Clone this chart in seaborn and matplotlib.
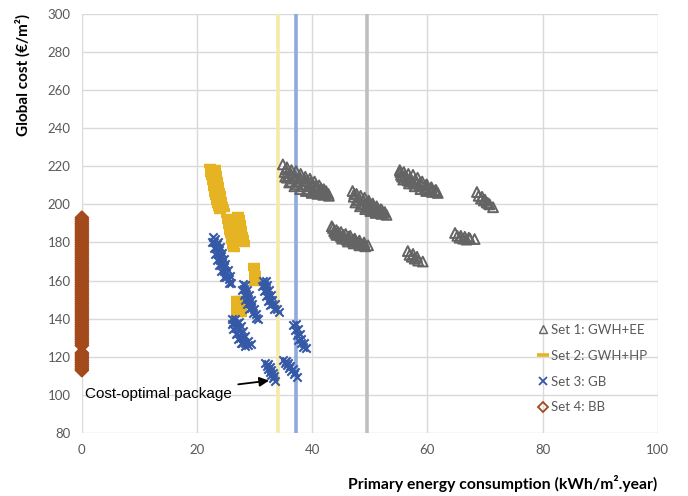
import matplotlib
matplotlib.use("Agg")
import matplotlib.pyplot as plt
from matplotlib.lines import Line2D
import seaborn as sns
import pandas as pd

# ---- Set 1: GWH+EE (primary energy, global cost) ----
set1_x = [34.9, 35.6, 36.4, 37.2, 38.0, 38.8, 39.6, 40.4, 41.2, 42.0, 42.8,
          35.4, 36.2, 37.0, 37.9, 38.8, 39.7, 40.6, 41.5, 42.4,
          35.2, 36.0, 36.9, 37.8, 38.7, 39.6, 40.5, 41.4, 42.2,
          35.6, 36.4, 37.3, 38.3, 39.3, 40.3, 41.3, 42.3,
          35.3, 36.0, 36.9, 37.9, 38.9, 39.9, 40.9, 41.9, 42.9,
          47.0, 47.7, 48.4, 49.1, 49.8, 50.5, 51.2, 51.9, 52.6,
          47.3, 48.1, 48.9, 49.7, 50.5, 51.3, 52.1,
          47.2, 47.9, 48.7, 49.5, 50.3, 51.1, 51.9,
          47.8, 48.6, 49.5, 50.4, 51.4, 52.4,
          47.5, 48.3, 49.2, 50.1, 51.0, 52.0, 52.9,
          43.4, 44.2, 45.0, 45.8, 46.6, 47.4, 48.2, 49.0, 49.7,
          43.6, 44.5, 45.4, 46.3, 47.2, 48.1, 49.0,
          43.8, 44.7, 45.6, 46.5, 47.4, 48.3,
          44.0, 45.0, 46.0, 47.0, 48.0, 49.0,
          44.2, 45.2, 46.2, 47.2, 48.2, 49.2,
          55.2, 55.9, 56.7, 57.5, 58.3, 59.1, 59.9, 60.7, 61.5,
          55.3, 56.1, 57.0, 57.9, 58.8, 59.7, 60.6, 61.4,
          55.4, 56.3, 57.2, 58.1, 59.0, 59.9, 60.8,
          55.6, 56.6, 57.6, 58.6, 59.6, 60.6, 61.4,
          55.8, 56.8, 57.8, 58.8, 59.8, 60.8, 61.8,
          68.6, 68.9, 69.3, 69.8, 70.3, 70.8, 71.4, 69.5, 70.0, 70.6,
          64.8, 65.2, 65.6, 66.2, 66.8, 67.4, 68.2, 65.8, 66.5, 67.2,
          56.6, 56.9, 57.3, 57.8, 58.4, 59.2, 57.5, 58.2]
set1_y = [221.0, 219.5, 218.0, 217.5, 216.0, 214.5, 213.5, 212.0, 210.0, 208.0, 205.5,
          218.5, 216.5, 215.0, 214.0, 212.5, 211.5, 210.0, 208.5, 207.0,
          217.0, 215.0, 213.5, 212.0, 210.5, 209.5, 208.5, 207.0, 206.0,
          214.0, 212.0, 210.5, 209.5, 208.0, 207.0, 206.2, 205.5,
          214.5, 211.5, 209.5, 208.0, 207.0, 206.0, 205.5, 205.0, 204.5,
          207.0, 205.5, 204.5, 203.5, 202.0, 200.5, 199.0, 197.5, 196.0,
          205.5, 203.5, 202.0, 201.0, 199.5, 198.0, 197.0,
          204.0, 202.0, 200.5, 199.5, 198.0, 197.0, 196.0,
          202.5, 200.0, 198.5, 197.2, 196.2, 195.5,
          201.0, 199.0, 197.5, 196.5, 195.5, 195.0, 194.5,
          188.5, 186.5, 185.5, 184.5, 183.5, 182.0, 181.0, 180.0, 178.5,
          187.5, 185.5, 184.0, 183.0, 181.5, 180.5, 179.3,
          186.0, 184.0, 182.5, 181.5, 180.5, 179.5,
          185.0, 183.0, 181.5, 180.5, 179.5, 178.8,
          184.0, 182.0, 180.5, 179.5, 178.5, 178.0,
          218.0, 217.0, 216.0, 215.5, 214.0, 212.0, 210.5, 209.0, 207.5,
          217.0, 215.0, 214.0, 213.0, 211.5, 210.0, 208.5, 207.5,
          215.5, 213.5, 212.0, 211.0, 210.0, 208.5, 207.5,
          214.5, 212.5, 211.0, 209.5, 208.5, 207.5, 206.8,
          213.0, 211.0, 209.5, 208.0, 207.0, 206.5, 206.0,
          206.5, 204.5, 203.0, 202.0, 201.0, 200.0, 198.5, 204.0, 202.5, 200.5,
          185.0, 183.5, 182.5, 182.0, 181.5, 182.0, 181.8, 183.5, 183.0, 182.5,
          175.5, 173.5, 172.5, 171.5, 170.5, 170.0, 174.0, 172.5]

# ---- Set 2: GWH+HP ----
set2_x = [22.3, 22.4, 22.4, 22.5, 22.6, 22.7, 22.8, 22.9, 23.0, 23.1, 23.2, 23.3,
          23.4, 23.5, 23.7, 23.8, 24.0,
          23.1, 23.2, 23.3, 23.3, 23.4, 23.5, 23.6, 23.7, 23.8, 23.9, 24.0, 24.1,
          24.2, 24.3, 24.5, 24.6,
          25.2, 25.3, 25.4, 25.5, 25.6, 25.7, 25.8, 25.9, 26.0, 26.1, 26.2, 26.3, 26.4,
          27.1, 27.2, 27.3, 27.4, 27.5, 27.6, 27.7, 27.8, 27.9, 28.0, 28.1, 28.2,
          26.2, 26.3, 26.4, 26.5,
          29.9, 29.9, 30.0, 30.0, 30.1, 30.1,
          27.0, 27.0, 27.0, 27.0, 27.0, 27.0, 27.0,
          27.7, 27.7, 27.7, 27.7, 27.7, 27.7, 27.7]
set2_y = [220.0, 218.5, 217.0, 215.5, 214.0, 212.5, 211.0, 209.5, 208.0, 206.5, 205.0, 203.5,
          202.0, 200.5, 199.0, 197.5, 196.0,
          219.5, 218.0, 216.5, 215.0, 213.5, 212.0, 210.5, 209.0, 207.5, 206.0, 204.5, 203.0,
          201.5, 200.0, 198.5, 197.0,
          194.0, 192.5, 191.0, 189.5, 188.0, 186.5, 185.0, 183.5, 182.0, 180.5, 179.0, 177.5, 176.0,
          195.0, 193.5, 192.0, 190.5, 189.0, 187.5, 186.0, 184.5, 183.0, 181.5, 180.0, 178.5,
          193.0, 191.0, 189.0, 187.0,
          168.0, 166.0, 164.0, 162.0, 160.0, 158.0,
          151.0, 149.5, 148.0, 146.5, 145.0, 143.5, 142.0,
          151.0, 149.5, 148.0, 146.5, 145.0, 143.5, 142.0]

# ---- Set 3: GB ----
set3_x = [22.7, 23.0, 23.3, 23.6, 23.9, 24.2, 24.6, 25.0, 25.5,
          23.2, 23.5, 23.8, 24.1, 24.4, 24.7, 25.1, 25.5, 25.9,
          22.6, 22.9, 23.2, 23.5, 23.8, 24.2, 24.6,
          23.7, 24.0, 24.3, 24.6, 24.9, 25.3, 25.7,
          27.9, 28.2, 28.5, 28.8, 29.1, 29.4, 29.8, 30.2,
          28.4, 28.7, 29.0, 29.3, 29.6, 29.9, 30.3, 30.6,
          27.8, 28.1, 28.4, 28.7, 29.0,
          31.4, 31.7, 32.0, 32.3, 32.6, 33.0, 33.4,
          31.9, 32.2, 32.5, 32.8, 33.1, 33.5, 33.9, 34.3,
          31.3, 31.6, 31.9, 32.3, 32.7,
          26.1, 26.4, 26.7, 27.0, 27.4, 27.8, 28.3,
          26.6, 26.9, 27.2, 27.6, 28.0, 28.4, 28.9,
          26.0, 26.3, 26.7, 27.1, 27.6,
          27.2, 27.6, 28.0, 28.4, 28.9, 29.3,
          36.7, 37.0, 37.3, 37.6, 38.0, 38.4,
          37.2, 37.5, 37.8, 38.1, 38.5, 38.9,
          31.8, 32.1, 32.3, 32.6, 32.9, 33.2, 33.5,
          32.3, 32.6, 32.9, 33.2, 33.4,
          35.0, 35.3, 35.6, 36.0, 36.4, 36.8, 37.3,
          35.5, 35.8, 36.2, 36.6, 37.0]
set3_y = [183.0, 180.0, 177.0, 174.0, 171.0, 168.0, 165.0, 162.0, 159.0,
          182.0, 179.0, 176.0, 173.0, 170.0, 167.0, 164.0, 161.0, 158.5,
          180.0, 177.0, 174.0, 171.0, 168.0, 165.0, 162.0,
          180.5, 177.5, 174.5, 171.5, 168.5, 165.5, 162.5,
          158.0, 155.5, 153.0, 150.5, 148.0, 145.5, 143.0, 140.5,
          157.5, 155.0, 152.5, 150.0, 147.5, 145.0, 142.5, 140.0,
          155.0, 152.5, 150.0, 147.5, 145.0,
          160.0, 157.5, 155.0, 152.5, 150.0, 147.5, 145.0,
          160.0, 157.5, 155.0, 152.5, 150.0, 147.5, 145.0, 143.5,
          157.0, 154.5, 152.0, 149.5, 147.0,
          140.0, 137.5, 135.0, 132.5, 130.0, 127.5, 125.5,
          140.0, 137.5, 135.0, 132.5, 130.0, 127.5, 126.0,
          137.0, 134.5, 132.0, 129.5, 127.5,
          138.5, 136.0, 133.5, 131.0, 128.5, 126.5,
          136.5, 134.0, 131.5, 129.0, 127.0, 125.0,
          137.0, 134.5, 132.0, 129.5, 127.5, 124.5,
          116.5, 115.0, 113.5, 112.0, 110.5, 109.0, 107.5,
          116.0, 114.5, 113.0, 111.5, 110.0,
          118.5, 117.0, 115.5, 114.0, 112.5, 111.0, 109.5,
          118.0, 116.5, 115.0, 113.5, 112.0]

# ---- Set 4: BB (all at zero primary energy) ----
set4_y = [113, 114, 115, 116, 117, 118, 119, 120, 121, 122,
          126, 127, 128, 129, 130, 131, 132, 133, 134, 135, 136, 137, 138, 139,
          140, 141, 142, 143, 144, 145, 146, 147, 148, 149, 150, 151, 152, 153,
          154, 155, 156, 157, 158, 159, 160, 161, 162, 163, 164, 165, 166, 167,
          168, 169, 170, 171, 172, 173, 174, 175, 176, 177, 178, 179, 180, 181,
          182, 183, 184, 185, 186, 187, 188, 189, 190, 191, 192, 193]
set4_x = [0.0] * len(set4_y)

# Reference lines (primary energy thresholds)
vlines_x = [34.1, 37.1, 49.5]
vlines_col = ["#F7E9A6", "#8FAADC", "#BFBFBF"]

labels = ["Set 1: GWH+EE", "Set 2: GWH+HP", "Set 3: GB", "Set 4: BB"]
colors = ["#646464", "#E6B422", "#3559A6", "#A4491B"]

x_ticks = [0, 20, 40, 60, 80, 100]
y_ticks = list(range(80, 301, 20))

sns.set_theme(style="white")
plt.rcParams["font.family"] = ["Lato", "DejaVu Sans"]

fig = plt.figure(figsize=(6.88, 4.96), dpi=100)
ax = fig.add_axes([0.119, 0.127, 0.837, 0.845])

for xv, cv in zip(vlines_x, vlines_col):
    ax.axvline(xv, color=cv, lw=2.6, zorder=1)

d1 = pd.DataFrame({"x": set1_x, "y": set1_y})
d2 = pd.DataFrame({"x": set2_x, "y": set2_y})
d3 = pd.DataFrame({"x": set3_x, "y": set3_y})
d4 = pd.DataFrame({"x": set4_x, "y": set4_y})

sns.scatterplot(data=d1, x="x", y="y", marker="^", s=50, facecolor="none",
                edgecolor=colors[0], linewidth=1.4, ax=ax, zorder=3)
sns.scatterplot(data=d2, x="x", y="y", marker="_", s=80, color=colors[1],
                linewidth=3.2, ax=ax, zorder=3)
sns.scatterplot(data=d3, x="x", y="y", marker="x", s=36, color=colors[2],
                linewidth=1.5, ax=ax, zorder=4)
sns.scatterplot(data=d4, x="x", y="y", marker="D", s=42, facecolor="none",
                edgecolor=colors[3], linewidth=1.4, ax=ax, zorder=3, clip_on=False)

ax.set_xlim(0, 100)
ax.set_ylim(80, 300)
ax.set_xticks(x_ticks)
ax.set_yticks(y_ticks)
ax.grid(True, color="#D9D9D9", lw=1)
ax.set_axisbelow(True)
for sp in ax.spines.values():
    sp.set_visible(False)
ax.tick_params(axis="both", length=0, labelsize=9.5, labelcolor="#595959", pad=8)

ax.set_xlabel("Primary energy consumption (kWh/m².year)", fontsize=11.3,
              fontweight="bold", color="#000000")
ax.xaxis.set_label_coords(1.0, -0.1)
ax.xaxis.label.set_ha("right")
ax.set_ylabel("Global cost (€/m²)", fontsize=11, fontweight="bold", color="#000000")
ax.yaxis.set_label_coords(-0.115, 1.0)
ax.yaxis.label.set_va("top")
ax.yaxis.label.set_ha("right")

ax.annotate("Cost-optimal package", xy=(32.5, 107.5), xytext=(0.6, 100.5),
            fontsize=11, family=["Liberation Sans", "DejaVu Sans"], color="black",
            va="center", ha="left",
            arrowprops=dict(arrowstyle="-|>", color="black", lw=1.3,
                            mutation_scale=14, shrinkA=2, shrinkB=0))

handles = [
    Line2D([], [], marker="^", ls="", mfc="none", mec=colors[0], ms=6, mew=1),
    Line2D([], [], marker="_", ls="", color=colors[1], ms=8, mew=2.6),
    Line2D([], [], marker="x", ls="", color=colors[2], ms=6, mew=1.3),
    Line2D([], [], marker="D", ls="", mfc="none", mec=colors[3], ms=5, mew=1.3),
]
leg = ax.legend(handles, labels, loc="upper left", bbox_to_anchor=(0.785, 0.273),
                frameon=False, fontsize=9.5, labelcolor="#595959",
                handlelength=0.6, handletextpad=0.3, labelspacing=1.05,
                borderaxespad=0)

fig.savefig("out.png", dpi=100)
